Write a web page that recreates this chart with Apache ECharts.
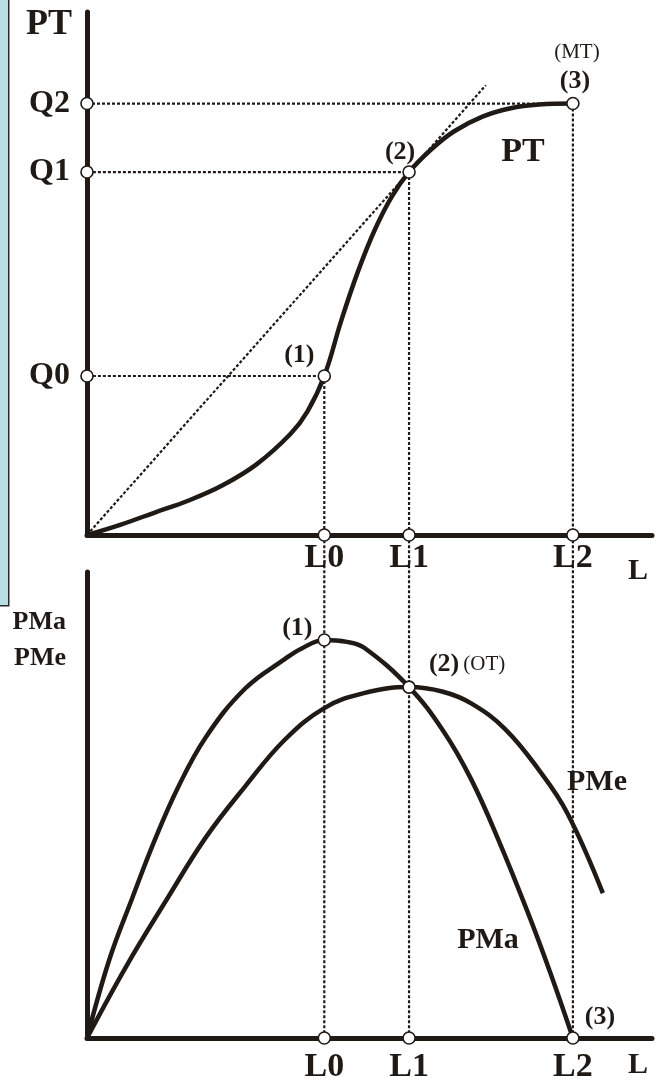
<!DOCTYPE html>
<html>
<head>
<meta charset="utf-8">
<script src="https://cdn.jsdelivr.net/npm/echarts@6/dist/echarts.min.js"></script>
<style>
  html, body { margin: 0; padding: 0; background: #fff; }
  #main { width: 656px; height: 1085px; }
</style>
</head>
<body>
<div id="main"></div>
<script>
// key labour levels and output levels
const L0 = 42, L1 = 57, L2 = 86
const Q0 = 30.4, Q1 = 69.4, Q2 = 82.5
const lTicks = [L0, L1, L2]
const lNames = ['L0', 'L1', 'L2']
const qTicks = [Q0, Q1, Q2]
const qNames = ['Q0', 'Q1', 'Q2']

// producto total (PT)
const ptL = [0, 6, 12, 18, 24, 30, 36, 39, 42, 45, 48, 51, 54, 57, 61, 65, 70, 75, 80, 86]
const ptQ = [0, 2, 4.3, 6.6, 9.5, 13.5, 19.3, 23.6, 30.4, 41, 50.5, 58.5, 64.8, 69.4, 73.8, 77.2, 80, 81.6, 82.3, 82.5]
// ray from origin through (2)
const rayL = [0, 57, 70.6]
const rayQ = [0, 69.4, 86]

// producto marginal (PMa) and medio (PMe)
const pmaL = [0, 4, 8, 12, 16, 21, 28, 35, 38, 42, 46, 49, 57, 63, 68, 73, 78, 82, 86]
const pmaV = [0, 17, 30, 42.5, 53.5, 64.5, 75, 81.3, 83.6, 85.4, 85, 83.8, 75.3, 66, 55.5, 42, 27, 14, 0]
const pmeL = [0, 7, 14, 21, 28, 35, 42, 49, 57, 63, 68, 74, 80, 85, 91.3]
const pmeV = [0, 15.5, 29.5, 43, 54, 64, 70.8, 74, 75.3, 74.3, 71.8, 66.3, 57.5, 48.3, 31.1]

const INK = '#1f1a16'
const SERIF = '"Liberation Serif", "DejaVu Serif", serif'
const zip = (a, b) => a.map((v, i) => [v, b[i]])

const chart = echarts.init(document.getElementById('main'))

function xAxisFor (gi, margin, namePad) {
  return {
    type: 'value', gridIndex: gi, min: 0, max: 100,
    axisLine: { show: true, lineStyle: { color: INK, width: 5 } },
    axisTick: { show: false },
    splitLine: { show: false },
    axisLabel: {
      customValues: lTicks,
      formatter: v => lNames[lTicks.indexOf(v)],
      margin: margin,
      fontFamily: SERIF, fontWeight: 'bold', fontSize: 34, color: INK
    },
    name: 'L', nameLocation: 'end', nameGap: -4,
    nameTextStyle: {
      fontFamily: SERIF, fontWeight: 'bold', fontSize: 30, color: INK,
      align: 'right', verticalAlign: 'top', padding: [namePad, 0, 0, 0]
    }
  }
}

function ref (points, gi) {
  return {
    type: 'line', xAxisIndex: gi, yAxisIndex: gi, data: points,
    symbol: 'none', clip: false, silent: true, z: 1,
    lineStyle: { color: INK, width: 2.2, type: [3, 2] }
  }
}

function curve (xs, ys, gi) {
  return {
    type: 'line', xAxisIndex: gi, yAxisIndex: gi, data: zip(xs, ys),
    symbol: 'none', smooth: 0.4, clip: false, silent: true, z: 2,
    lineStyle: { color: INK, width: 4.5 }
  }
}

const bold = { fontFamily: SERIF, fontWeight: 'bold', fontSize: 26, color: INK, lineHeight: 29 }
const small = { fontFamily: SERIF, fontWeight: 'normal', fontSize: 21, color: INK, lineHeight: 29, padding: [0, 0, 0, 4] }

function pt (x, y, text, offset) {
  const item = { value: [x, y] }
  if (text) {
    item.label = {
      show: true, position: 'inside', offset: offset, formatter: text,
      ...bold, rich: { b: bold, s: small }
    }
  }
  return item
}

function dots (items, gi) {
  return {
    type: 'scatter', xAxisIndex: gi, yAxisIndex: gi, data: items,
    symbol: 'circle', symbolSize: 12, clip: false, silent: true, z: 5,
    itemStyle: { color: '#fff', borderColor: INK, borderWidth: 1.6, opacity: 1 },
    emphasis: { disabled: true }
  }
}

const gapTop = 107.9 // bottom-grid value reaching up to the top x axis

const option = {
  animation: false,
  backgroundColor: '#fff',
  grid: [
    { left: 87, top: 12, width: 565, height: 523 },
    { left: 87, top: 572, width: 565, height: 466 }
  ],
  xAxis: [xAxisFor(0, 6, 21), xAxisFor(1, 12, 12)],
  yAxis: [
    {
      type: 'value', gridIndex: 0, min: 0, max: 100,
      axisLine: { show: true, lineStyle: { color: INK, width: 5 } },
      axisTick: { show: false },
      splitLine: { show: false },
      axisLabel: {
        customValues: qTicks,
        formatter: v => qNames[qTicks.indexOf(v)],
        margin: 17,
        fontFamily: SERIF, fontWeight: 'bold', fontSize: 32, color: INK
      },
      name: 'PT', nameLocation: 'end', nameGap: -13,
      nameTextStyle: {
        fontFamily: SERIF, fontWeight: 'bold', fontSize: 36, color: INK,
        align: 'right', verticalAlign: 'middle', padding: [0, 15, 0, 0]
      }
    },
    {
      type: 'value', gridIndex: 1, min: 0, max: 100,
      axisLine: { show: true, lineStyle: { color: INK, width: 5 } },
      axisTick: { show: false },
      splitLine: { show: false },
      axisLabel: { show: false },
      name: 'PMa\nPMe', nameLocation: 'end', nameGap: 0,
      nameTextStyle: {
        fontFamily: SERIF, fontWeight: 'bold', fontSize: 26, color: INK, lineHeight: 36,
        align: 'right', verticalAlign: 'top', padding: [32, 21, 0, 0]
      }
    }
  ],
  graphic: [
    {
      type: 'rect', left: -2, top: -2, z: 100,
      shape: { width: 10, height: 607 },
      style: { fill: '#b9dfe5', stroke: '#2a2a2a', lineWidth: 1.5 }
    },
    { type: 'text', x: 523, y: 152, style: { text: 'PT', font: 'bold 34px ' + SERIF, fill: INK, align: 'center', verticalAlign: 'middle' } },
    { type: 'text', x: 597, y: 782, style: { text: 'PMe', font: 'bold 30px ' + SERIF, fill: INK, align: 'center', verticalAlign: 'middle' } },
    { type: 'text', x: 488, y: 940, style: { text: 'PMa', font: 'bold 30px ' + SERIF, fill: INK, align: 'center', verticalAlign: 'middle' } }
  ],
  series: [
    // top panel guides
    ref([[0, Q2], [L2, Q2]], 0),
    ref([[-14, Q1], [L1, Q1]], 0),
    ref([[-14, Q0], [L0, Q0]], 0),
    ref([[L0, Q0], [L0, 0]], 0),
    ref([[L1, Q1], [L1, 0]], 0),
    ref([[L2, Q2], [L2, 0]], 0),
    ref(zip(rayL, rayQ), 0),
    // bottom panel guides (continue up to the top axis)
    ref([[L0, gapTop], [L0, 0]], 1),
    ref([[L1, gapTop], [L1, 0]], 1),
    ref([[L2, gapTop], [L2, 0]], 1),
    curve(ptL, ptQ, 0),
    curve(pmaL, pmaV, 1),
    curve(pmeL, pmeV, 1),
    dots([
      pt(L0, Q0, '(1)', [-25, -21]),
      pt(L1, Q1, '(2)', [-9, -20]),
      pt(L2, Q2, '{s|(MT)}\n{b|(3)}', [2, -37]),
      pt(0, Q0), pt(0, Q1), pt(0, Q2),
      pt(L0, 0), pt(L1, 0), pt(L2, 0)
    ], 0),
    dots([
      pt(L0, pmaV[pmaL.indexOf(L0)], '(1)', [-27, -12]),
      pt(L1, pmaV[pmaL.indexOf(L1)], '{b|(2)}{s|(OT)}', [58, -23]),
      pt(L2, 0, '(3)', [27, -21]),
      pt(L0, 0), pt(L1, 0)
    ], 1)
  ]
}

chart.setOption(option)
</script>
</body>
</html>
